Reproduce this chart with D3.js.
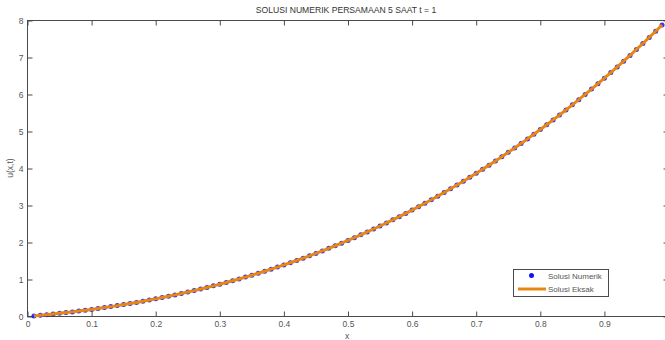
<!DOCTYPE html>
<html>
<head>
<meta charset="utf-8">
<script src="https://cdn.jsdelivr.net/npm/d3@7"></script>
<style>
  html, body { margin: 0; padding: 0; background: #fff; }
  svg { display: block; font-family: "Liberation Sans", Arial, sans-serif; }
</style>
</head>
<body>
<svg id="chart" width="665" height="340"></svg>
<script>
const titleText = "SOLUSI NUMERIK PERSAMAAN 5 SAAT t = 1";
const xLabel = "x";
const yLabel = "u(x,t)";
const legendLabels = ["Solusi Numerik", "Solusi Eksak"];
const xTicks = [0, 0.1, 0.2, 0.3, 0.4, 0.5, 0.6, 0.7, 0.8, 0.9];
const yTicks = [0, 1, 2, 3, 4, 5, 6, 7, 8];
const xValues = d3.range(1, 100).map(i => i / 100);
const solusiNumerik = [
  0.015, 0.032, 0.049, 0.066, 0.085, 0.105, 0.125, 0.146, 0.169, 0.192,
  0.216, 0.241, 0.267, 0.294, 0.322, 0.351, 0.381, 0.412, 0.444, 0.477,
  0.512, 0.547, 0.584, 0.621, 0.660, 0.700, 0.741, 0.784, 0.828, 0.873,
  0.919, 0.966, 1.015, 1.065, 1.116, 1.169, 1.223, 1.279, 1.335, 1.394,
  1.453, 1.514, 1.577, 1.641, 1.706, 1.773, 1.842, 1.912, 1.983, 2.056,
  2.131, 2.207, 2.285, 2.365, 2.446, 2.528, 2.613, 2.699, 2.787, 2.876,
  2.968, 3.061, 3.156, 3.252, 3.351, 3.451, 3.553, 3.657, 3.762, 3.870,
  3.979, 4.091, 4.204, 4.319, 4.437, 4.556, 4.677, 4.800, 4.926, 5.053,
  5.182, 5.313, 5.447, 5.582, 5.720, 5.860, 6.002, 6.146, 6.293, 6.441,
  6.592, 6.744, 6.900, 7.057, 7.217, 7.379, 7.543, 7.710, 7.879
];
const solusiEksak = solusiNumerik.slice();

const svg = d3.select("#chart");
const L = 27.5, R = 668.5, T = 20.5, B = 316.5;
const x = d3.scaleLinear().domain([0, 1]).range([L, R]);
const y = d3.scaleLinear().domain([0, 8]).range([B, T]);
const axisColor = "#4a4a4a";
const textColor = "#555";

// box
svg.append("rect").attr("x", L).attr("y", T).attr("width", R - L).attr("height", B - T)
  .attr("fill", "none").attr("stroke", axisColor).attr("stroke-width", 1);

// axes (ticks inward)
const xb = svg.append("g").attr("transform", `translate(0,${B})`)
  .call(d3.axisBottom(x).tickValues(xTicks).tickSize(-5).tickPadding(4).tickFormat(d3.format("")));
const xt = svg.append("g").attr("transform", `translate(0,${T})`)
  .call(d3.axisTop(x).tickValues(xTicks).tickSize(-5).tickFormat(""));
const yl = svg.append("g").attr("transform", `translate(${L},0)`)
  .call(d3.axisLeft(y).tickValues(yTicks).tickSize(-5).tickPadding(4).tickFormat(d3.format("d")));
const yr = svg.append("g").attr("transform", `translate(${R},0)`)
  .call(d3.axisRight(y).tickValues(yTicks).tickSize(-5).tickFormat(""));
[xb, xt, yl, yr].forEach(g => {
  g.select(".domain").remove();
  g.selectAll("line").attr("stroke", axisColor);
  g.selectAll("text").attr("fill", textColor).style("font-size", "8.5px");
});

// title & labels
svg.append("text").attr("x", 346).attr("y", 13).attr("text-anchor", "middle")
  .attr("fill", "#333").style("font-size", "8.6px").text(titleText);
svg.append("text").attr("x", 347).attr("y", 339).attr("text-anchor", "middle")
  .attr("fill", textColor).style("font-size", "8.5px").text(xLabel);
svg.append("text").attr("transform", "translate(13,168) rotate(-90)").attr("text-anchor", "middle")
  .attr("fill", textColor).style("font-size", "8.5px").text(yLabel);

// data
const dotColor = "#1010ff";
const lineColor = "#e8870f";
svg.append("g").selectAll("circle").data(xValues).join("circle")
  .attr("cx", (d) => x(d)).attr("cy", (d, i) => y(solusiNumerik[i]))
  .attr("r", 2.5).attr("fill", dotColor).attr("opacity", 0.85);
const line = d3.line().x(d => x(d[0])).y(d => y(d[1]));
svg.append("path").datum(xValues.map((d, i) => [d, solusiEksak[i]]))
  .attr("d", line).attr("fill", "none").attr("stroke", lineColor).attr("stroke-width", 3);

// legend
const lg = svg.append("g");
lg.append("rect").attr("x", 513.5).attr("y", 269.5).attr("width", 95).attr("height", 27)
  .attr("fill", "#fff").attr("stroke", axisColor).attr("stroke-width", 1);
lg.append("circle").attr("cx", 531.5).attr("cy", 275.5).attr("r", 2.5).attr("fill", dotColor);
lg.append("line").attr("x1", 518).attr("x2", 546).attr("y1", 289).attr("y2", 289)
  .attr("stroke", lineColor).attr("stroke-width", 3);
lg.append("text").attr("x", 548).attr("y", 279).attr("fill", textColor).style("font-size", "8px").text(legendLabels[0]);
lg.append("text").attr("x", 548).attr("y", 292).attr("fill", textColor).style("font-size", "8px").text(legendLabels[1]);
</script>
</body>
</html>
